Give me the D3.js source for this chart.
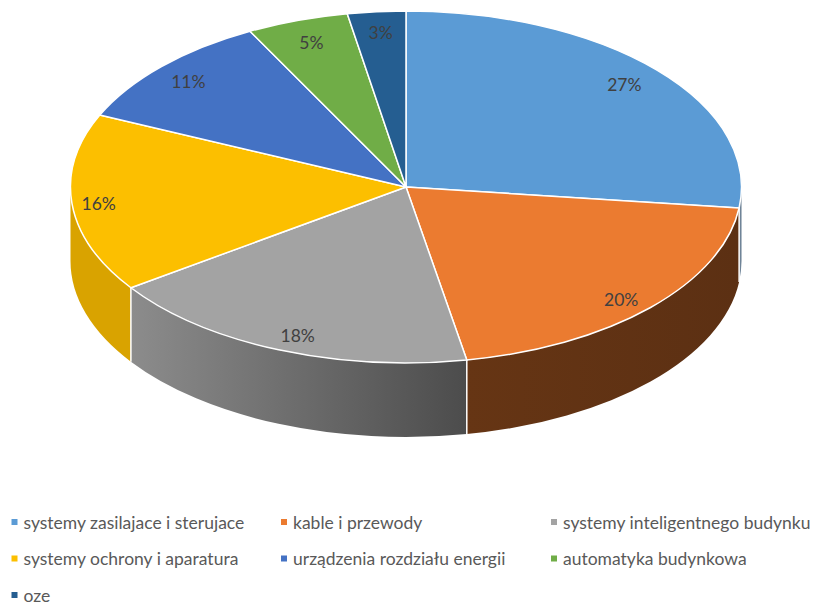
<!DOCTYPE html>
<html>
<head>
<meta charset="utf-8">
<script src="https://cdnjs.cloudflare.com/ajax/libs/d3/7.8.5/d3.min.js"></script>
<style>
  html, body { margin: 0; padding: 0; background: #fff; }
  text { font-family: Lato, "Open Sans", sans-serif; fill: #595959; }
</style>
</head>
<body>
<div id="chart"></div>
<script>
const categories = ['systemy zasilajace i sterujace', 'kable i przewody', 'systemy inteligentnego budynku',
  'systemy ochrony i aparatura', 'urządzenia rozdziału energii', 'automatyka budynkowa', 'oze'];
const values = [26.9, 20.2, 18.2, 16.4, 10.6, 4.9, 2.8];
const colors = ['#5b9bd5', '#eb7b30', '#a3a3a3', '#fcbf00', '#4472c4', '#70ad47', '#255e91'];
// side wall gradient, left end then right end
const wallFrom = ['#7f93a8', '#663514', '#8c8c8c', '#d9a300', '#3a5f9f', '#5c8f3a', '#1d4a73'];
const wallTo = ['#64798d', '#5c3013', '#4c4c4c', '#d9a300', '#3a5f9f', '#5c8f3a', '#1d4a73'];

const width = 814, height = 603;
const cx = 406, cy = 187, rx = 335.5, ry = 176, depth = 74;

const svg = d3.select('#chart').append('svg')
  .attr('width', width).attr('height', height)
  .style('display', 'block');
const defs = svg.append('defs');

const slices = d3.pie().sort(null).value(d => d)(values);
const px = a => cx + rx * Math.sin(a);
const py = a => cy - ry * Math.cos(a);

/* side walls, only the front half of the rim can be seen */
const walls = svg.append('g');
slices.forEach((s, i) => {
  const a0 = Math.max(s.startAngle, Math.PI / 2);
  const a1 = Math.min(s.endAngle, Math.PI * 1.5);
  if (a0 >= a1) return;

  defs.append('linearGradient')
    .attr('id', 'wall' + i)
    .attr('gradientUnits', 'userSpaceOnUse')
    .attr('x1', Math.min(px(a0), px(a1))).attr('x2', Math.max(px(a0), px(a1)))
    .attr('y1', 0).attr('y2', 0)
    .call(g => {
      g.append('stop').attr('offset', 0).attr('stop-color', wallFrom[i]);
      g.append('stop').attr('offset', 1).attr('stop-color', wallTo[i]);
    });

  const d = `M${px(a0)},${py(a0)}A${rx},${ry} 0 0 1 ${px(a1)},${py(a1)}` +
    `L${px(a1)},${py(a1) + depth}A${rx},${ry} 0 0 0 ${px(a0)},${py(a0) + depth}Z`;
  walls.append('path').attr('d', d).attr('fill', `url(#wall${i})`);

  // white seam where two slices meet on the rim
  if (s.startAngle > Math.PI / 2) {
    walls.append('line')
      .attr('x1', px(a0)).attr('x2', px(a0))
      .attr('y1', py(a0)).attr('y2', py(a0) + depth)
      .attr('stroke', '#fff').attr('stroke-width', 1.5);
  }
});

/* top face: ordinary arcs squashed into an ellipse */
const arc = d3.arc().innerRadius(0).outerRadius(rx);
svg.append('g')
  .attr('transform', `translate(${cx},${cy}) scale(1,${ry / rx})`)
  .selectAll('path')
  .data(slices)
  .join('path')
  .attr('d', arc)
  .attr('fill', (d, i) => colors[i])
  .attr('stroke', '#fff')
  .attr('stroke-width', 1.5)
  .attr('stroke-linejoin', 'round')
  .style('vector-effect', 'non-scaling-stroke');

/* percent labels, best-fit placement differs a little per slice */
const labelFactorX = [0.87, 0.88, 0.85, 0.92, 0.89, 0.87, 0.86];
const labelFactorY = [0.88, 0.93, 0.91, 1.0, 0.875, 0.87, 0.88];
const total = d3.sum(values);
svg.append('g')
  .selectAll('text')
  .data(slices)
  .join('text')
  .attr('x', (d, i) => cx + rx * labelFactorX[i] * Math.sin((d.startAngle + d.endAngle) / 2))
  .attr('y', (d, i) => cy - ry * labelFactorY[i] * Math.cos((d.startAngle + d.endAngle) / 2))
  .attr('text-anchor', 'middle')
  .attr('dominant-baseline', 'central')
  .attr('font-size', 17.5)
  .style('fill', '#404040')
  .text(d => d3.format('.0f')(d.value / total * 100) + '%');

/* legend */
const legendCols = [11.5, 281, 551];
const legendRow = d3.scaleLinear().domain([0, 2]).range([522, 595]);
const legend = svg.append('g')
  .selectAll('g')
  .data(categories)
  .join('g')
  .attr('transform', (d, i) => `translate(${legendCols[i % 3]},${legendRow(Math.floor(i / 3))})`);
legend.append('rect')
  .attr('x', 0).attr('y', -3).attr('width', 6).attr('height', 6)
  .attr('fill', (d, i) => colors[i]);
legend.append('text')
  .attr('x', 12)
  .attr('dominant-baseline', 'central')
  .attr('font-size', 17.5)
  .text(d => d);
</script>
</body>
</html>
